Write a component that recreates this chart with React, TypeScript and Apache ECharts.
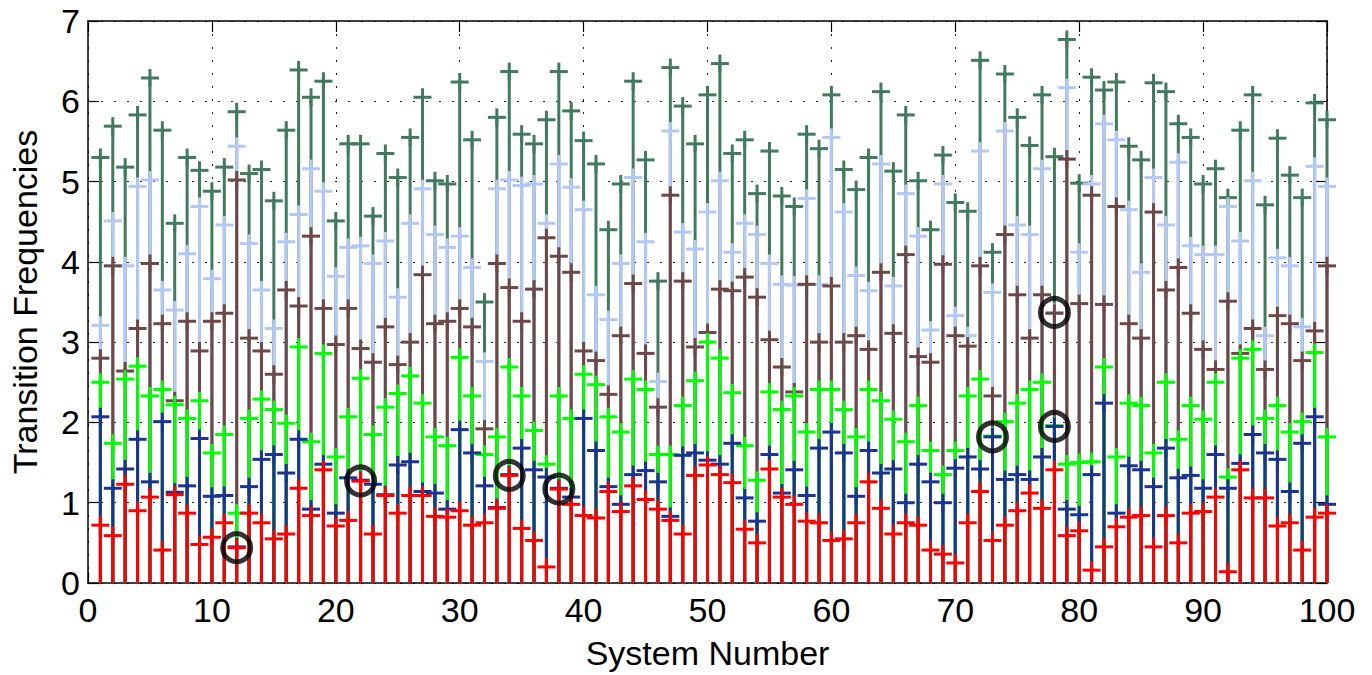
import React, { useEffect, useRef } from "react";
import * as echarts from "echarts";

const systems: number[] = Array.from({ length: 100 }, (_, i) => i + 1);

const darkGreen = [5.30,5.69,5.18,5.83,6.29,5.64,4.48,5.30,5.14,4.88,5.18,5.87,5.10,5.15,4.76,5.64,6.39,6.05,6.25,4.51,5.47,5.47,4.57,5.35,5.05,5.55,6.05,5.01,4.97,6.24,5.52,3.50,5.80,6.37,5.59,5.47,5.77,6.37,5.88,5.51,5.22,4.40,4.97,6.25,5.27,3.76,6.42,5.94,5.47,6.08,6.47,5.35,5.52,4.85,5.38,4.82,4.69,5.59,5.41,6.08,5.15,4.90,5.30,6.12,5.13,5.83,5.01,4.40,5.33,4.74,4.63,6.51,4.12,6.34,5.80,5.45,6.08,5.31,6.77,4.98,6.30,6.14,6.24,5.44,5.27,6.23,6.12,5.72,5.55,4.97,5.16,4.80,5.64,6.08,4.71,5.54,5.08,4.80,5.98,5.77];
const lightBlue = [3.21,4.51,3.95,4.94,5.02,3.65,3.40,4.10,4.69,3.79,4.46,5.44,4.23,3.65,3.17,4.25,4.59,5.16,4.88,3.82,4.18,4.20,3.98,4.26,3.56,4.48,4.91,4.34,4.18,4.32,3.93,2.76,4.91,5.02,4.95,4.97,4.48,5.22,4.93,4.65,3.59,3.28,3.98,5.05,4.25,2.51,5.63,4.37,4.16,4.62,5.01,4.12,4.48,4.34,3.98,3.72,3.71,4.79,3.72,5.55,4.62,3.83,3.64,5.22,3.70,4.85,4.32,3.15,4.97,3.33,3.08,5.38,3.62,5.63,4.46,4.34,5.16,3.37,6.17,4.12,4.97,5.72,5.52,4.65,3.87,5.05,4.46,5.24,4.20,4.09,4.09,4.69,4.26,5.01,3.08,4.05,3.95,3.19,5.19,4.94];
const brown = [2.80,3.95,2.64,3.17,3.98,3.23,2.27,3.26,2.89,3.26,3.36,5.02,3.05,2.89,2.60,3.65,3.45,4.32,3.42,2.97,3.42,2.92,2.75,3.19,2.72,3.00,3.84,3.23,3.26,3.42,3.19,1.92,3.98,3.68,3.26,3.66,4.30,4.07,3.87,2.89,2.77,2.35,3.08,3.73,2.86,2.19,4.83,3.76,2.94,3.12,3.66,3.64,3.81,3.56,3.03,2.69,2.38,3.72,3.00,3.70,3.00,3.08,2.91,3.87,3.11,4.09,2.82,2.75,3.97,3.08,2.95,3.95,2.33,4.34,3.59,3.05,3.59,3.36,5.28,3.48,4.83,3.47,4.69,3.23,3.05,4.62,3.65,3.93,3.36,2.91,2.66,3.51,2.86,3.17,2.66,3.33,3.23,2.77,3.14,3.95];
const green = [2.50,1.74,2.54,2.70,2.33,2.41,2.22,2.05,2.27,1.62,1.85,0.87,2.05,2.29,2.16,1.99,2.94,1.76,2.86,1.57,2.07,2.55,1.85,2.19,2.36,2.58,2.24,1.82,1.71,2.81,2.33,1.60,1.82,2.69,2.33,1.90,1.48,2.33,2.05,2.60,2.47,2.07,1.88,2.54,2.41,1.60,1.60,2.21,2.52,3.00,2.80,2.37,1.71,1.28,2.38,2.16,2.33,1.88,2.41,2.41,2.16,1.82,2.41,2.27,2.04,1.76,2.21,1.65,1.35,1.65,2.33,2.54,1.83,2.01,2.24,2.41,2.50,1.96,1.48,1.50,1.51,2.69,1.57,2.24,2.21,1.62,2.50,1.79,2.21,2.04,2.50,1.32,2.80,2.91,2.05,2.21,1.88,2.01,2.87,1.82];
const navy = [2.07,1.18,1.42,1.79,1.26,2.01,1.13,1.21,1.80,1.08,1.09,0.45,1.20,1.54,1.60,1.37,1.79,0.92,1.48,0.87,1.31,1.28,1.23,1.10,1.47,1.51,1.14,1.12,0.92,1.91,1.62,1.21,0.94,1.35,1.68,1.41,1.32,1.18,1.07,2.05,1.65,1.20,0.98,1.35,1.40,1.26,0.83,1.59,1.62,1.53,1.48,1.74,1.06,0.77,1.60,1.12,1.41,1.09,1.68,1.88,1.62,1.08,1.65,1.37,1.42,1.00,1.48,1.26,1.00,1.43,1.57,1.42,1.82,1.29,1.35,1.29,1.57,1.95,0.92,0.85,1.35,2.24,0.87,1.46,1.41,1.20,1.68,1.31,1.34,1.18,1.60,1.18,1.49,1.85,1.62,1.54,1.14,1.74,2.07,0.98];
const red = [0.72,0.59,1.23,0.90,1.07,0.41,1.10,0.87,0.48,0.57,0.75,0.44,0.87,0.75,0.55,0.61,1.18,0.84,1.41,0.71,0.78,1.27,0.61,1.09,0.87,1.09,1.09,0.83,0.82,0.90,0.72,0.75,0.93,1.34,0.68,0.53,0.20,1.17,0.98,0.84,0.81,1.14,0.89,1.21,1.04,0.92,0.78,0.61,1.34,1.47,1.35,1.25,0.67,0.50,1.42,1.07,0.98,0.77,0.75,0.53,0.55,0.75,1.26,0.93,0.61,0.75,0.72,0.41,0.36,0.25,0.75,1.14,0.53,0.72,0.90,1.12,0.93,1.41,0.59,0.65,0.16,0.45,0.70,0.82,0.84,0.45,0.84,0.50,0.87,0.89,1.07,0.14,1.41,1.06,1.06,0.71,0.75,0.41,0.82,0.87];

const circledX = [12, 22, 34, 38, 73, 78, 78];
const circledY = [0.44, 1.27, 1.34, 1.17, 1.82, 1.95, 3.37];

const seriesDefs = [
  { name: "Mode 6", values: darkGreen, color: "#417A5C" },
  { name: "Mode 5", values: lightBlue, color: "#B4C8F6" },
  { name: "Mode 4", values: brown, color: "#6E4747" },
  { name: "Mode 3", values: green, color: "#00FF00" },
  { name: "Mode 2", values: navy, color: "#1B3391" },
  { name: "Mode 1", values: red, color: "#FF0000" },
];

const FONT = "'Liberation Sans', Arial, Helvetica, sans-serif";

export default function App() {
  const ref = useRef<HTMLDivElement>(null);
  useEffect(() => {
    if (!ref.current) return;
    const chart = echarts.init(ref.current, undefined, { renderer: "svg" });
    const stemSeries = seriesDefs.map((d) => ({
      type: "custom",
      name: d.name,
      xAxisIndex: 0,
      yAxisIndex: 0,
      encode: { x: 0, y: 1 },
      data: systems.map((s, i) => [s, d.values[i]]),
      renderItem: (params: any, api: any) => {
        const x = api.value(0);
        const v = api.value(1);
        const top = api.coord([x, v]);
        const base = api.coord([x, 0]);
        const h = 9;
        const style = { stroke: d.color, lineWidth: 3 };
        return {
          type: "group",
          children: [
            { type: "line", shape: { x1: top[0], y1: base[1], x2: top[0], y2: top[1] }, style },
            { type: "line", shape: { x1: top[0] - h, y1: top[1], x2: top[0] + h, y2: top[1] }, style },
            { type: "line", shape: { x1: top[0], y1: top[1] - h, x2: top[0], y2: top[1] + h }, style },
          ],
        };
      },
    }));
    const axisCommon = {
      axisLine: { show: true, onZero: false, lineStyle: { color: "#000", width: 1.5 } },
      axisTick: { show: true, inside: true, length: 11, lineStyle: { color: "#000", width: 1.2 } },
    };
    const option: any = {
      animation: false,
      backgroundColor: "#fff",
      grid: { left: 85, right: 45, top: 21, bottom: 82, containLabel: false },
      xAxis: [
        {
          type: "value",
          position: "bottom",
          min: 0,
          max: 100,
          interval: 10,
          ...axisCommon,
          axisLabel: { color: "#000", fontSize: 34, fontFamily: FONT, margin: 10 },
          splitLine: { show: true, lineStyle: { color: "#222", width: 1, type: [2, 11] } },
          name: "System Number",
          nameLocation: "middle",
          nameGap: 53,
          nameTextStyle: { color: "#000", fontSize: 34, fontFamily: FONT },
        },
        {
          type: "value",
          position: "top",
          min: 0,
          max: 100,
          interval: 10,
          ...axisCommon,
          axisLabel: { show: false },
          splitLine: { show: false },
        },
      ],
      yAxis: [
        {
          type: "value",
          position: "left",
          min: 0,
          max: 7,
          interval: 1,
          ...axisCommon,
          axisLabel: { color: "#000", fontSize: 34, fontFamily: FONT, margin: 8 },
          splitLine: { show: true, lineStyle: { color: "#222", width: 1, type: [2, 11] } },
          name: "Transition Frequencies",
          nameLocation: "middle",
          nameGap: 46,
          nameTextStyle: { color: "#000", fontSize: 34, fontFamily: FONT },
        },
        {
          type: "value",
          position: "right",
          min: 0,
          max: 7,
          interval: 1,
          ...axisCommon,
          axisLabel: { show: false },
          splitLine: { show: false },
        },
      ],
      series: [
        ...stemSeries,
        {
          type: "scatter",
          name: "Coincident",
          xAxisIndex: 0,
          yAxisIndex: 0,
          z: 10,
          symbol: "circle",
          symbolSize: 28,
          itemStyle: { color: "rgba(0,0,0,0)", borderColor: "#000", borderWidth: 5 },
          data: circledX.map((x, i) => [x, circledY[i]]),
        },
      ],
    };
    chart.setOption(option);
    return () => chart.dispose();
  }, []);
  return (
    <div
      ref={ref}
      style={{ position: "absolute", left: 0, top: 0, width: 1372, height: 675, background: "#fff" }}
    />
  );
}
